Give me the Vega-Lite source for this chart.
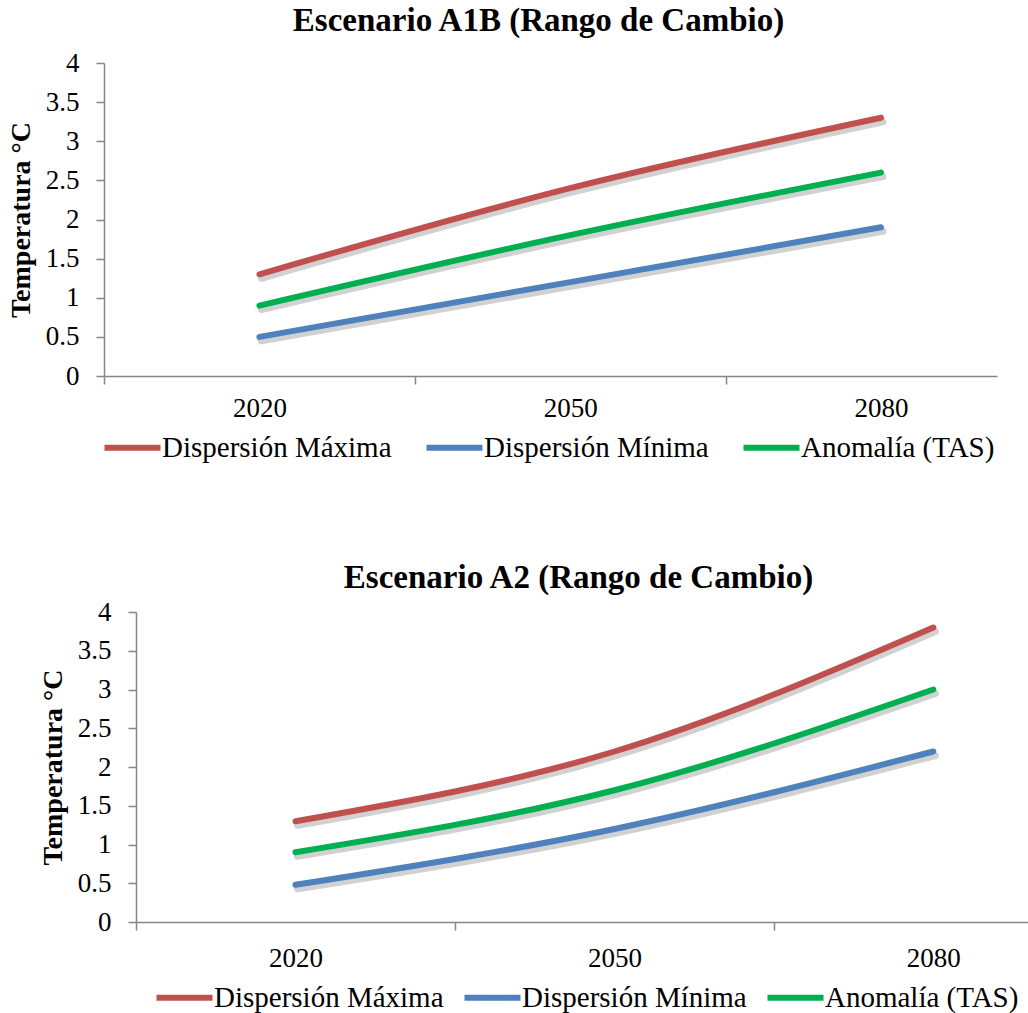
{
  "$schema": "https://vega.github.io/schema/vega-lite/v6.json",
  "padding": {"left": 7, "top": 5, "right": 0, "bottom": 0},
  "config": {
    "font": "Liberation Serif",
    "view": {"stroke": null},
    "axis": {
      "labelFont": "Liberation Serif", "labelFontSize": 27, "labelColor": "#000000",
      "domainColor": "#868686", "tickColor": "#868686", "domainWidth": 1.5, "tickWidth": 1.5,
      "grid": false,
      "titleFont": "Liberation Serif", "titleFontSize": 28, "titleFontWeight": "bold", "titleColor": "#000000"
    },
    "title": {"font": "Liberation Serif", "fontSize": 33, "fontWeight": "bold", "color": "#000000", "anchor": "middle"},
    "legend": {
      "orient": "none", "direction": "horizontal", "title": null,
      "labelFont": "Liberation Serif", "labelFontSize": 29, "labelColor": "#000000", "labelLimit": 400,
      "symbolType": "M-2.8,0H2.8", "symbolSize": 400, "symbolStrokeWidth": 6,
      "labelOffset": 15, "columnPadding": 22
    }
  },
  "datasets": {
    "a1b": [
      {"anio": 2020, "serie": "Dispersión Máxima", "temp": 1.3},
      {"anio": 2050, "serie": "Dispersión Máxima", "temp": 2.4},
      {"anio": 2080, "serie": "Dispersión Máxima", "temp": 3.3},
      {"anio": 2020, "serie": "Dispersión Mínima", "temp": 0.5},
      {"anio": 2050, "serie": "Dispersión Mínima", "temp": 1.2},
      {"anio": 2080, "serie": "Dispersión Mínima", "temp": 1.9},
      {"anio": 2020, "serie": "Anomalía (TAS)", "temp": 0.9},
      {"anio": 2050, "serie": "Anomalía (TAS)", "temp": 1.8},
      {"anio": 2080, "serie": "Anomalía (TAS)", "temp": 2.6}
    ],
    "a2": [
      {"anio": 2020, "serie": "Dispersión Máxima", "temp": 1.3},
      {"anio": 2050, "serie": "Dispersión Máxima", "temp": 2.2},
      {"anio": 2080, "serie": "Dispersión Máxima", "temp": 3.8},
      {"anio": 2020, "serie": "Dispersión Mínima", "temp": 0.48},
      {"anio": 2050, "serie": "Dispersión Mínima", "temp": 1.2},
      {"anio": 2080, "serie": "Dispersión Mínima", "temp": 2.2},
      {"anio": 2020, "serie": "Anomalía (TAS)", "temp": 0.9},
      {"anio": 2050, "serie": "Anomalía (TAS)", "temp": 1.7},
      {"anio": 2080, "serie": "Anomalía (TAS)", "temp": 3.0}
    ]
  },
  "bounds": "flush",
  "spacing": 236,
  "resolve": {"scale": {"color": "independent"}, "legend": {"color": "independent"}},
  "vconcat": [
    {
      "width": 893, "height": 313,
      "title": {"text": "Escenario A1B (Rango de Cambio)", "dx": -12, "offset": 11},
      "data": {"name": "a1b"},
      "encoding": {
        "x": {
          "field": "anio", "type": "quantitative",
          "scale": {"domain": [2005, 2091.2], "nice": false, "zero": false},
          "axis": {
            "values": [2005, 2020, 2035, 2050, 2065, 2080], "format": "d", "title": null,
            "labelExpr": "datum.value == 2005 || datum.value == 2035 || datum.value == 2065 ? '' : datum.label",
            "tickOpacity": {"condition": {"test": "datum.value == 2020 || datum.value == 2050 || datum.value == 2080", "value": 0}, "value": 1},
            "tickSize": 8, "labelPadding": 11, "labelFlush": false, "labelOverlap": false
          }
        },
        "y": {
          "field": "temp", "type": "quantitative",
          "scale": {"domain": [0, 4], "nice": false},
          "axis": {
            "values": [0, 0.5, 1, 1.5, 2, 2.5, 3, 3.5, 4], "format": "~g",
            "tickSize": 8, "labelPadding": 17, "title": "Temperatura °C", "titlePadding": 10
          }
        }
      },
      "layer": [
        {
          "mark": {"type": "line", "interpolate": "monotone", "strokeWidth": 7, "color": "#7a7a7a", "opacity": 0.35, "xOffset": 2, "yOffset": 4, "strokeCap": "round"},
          "encoding": {"detail": {"field": "serie"}}
        },
        {
          "mark": {"type": "line", "interpolate": "monotone", "strokeWidth": 6, "strokeCap": "round"},
          "encoding": {
            "color": {
              "field": "serie", "type": "nominal",
              "scale": {"domain": ["Dispersión Máxima", "Dispersión Mínima", "Anomalía (TAS)"], "range": ["#C0504D", "#4F81BD", "#00B050"]},
              "legend": {"legendX": 14, "legendY": 370}
            }
          }
        }
      ]
    },
    {
      "spacing": 20,
      "bounds": "flush",
      "resolve": {"scale": {"color": "independent"}, "legend": {"color": "independent"}},
      "hconcat": [
        {
          "width": 12, "height": 10,
          "data": {"values": [{}]},
          "mark": {"type": "point", "opacity": 0},
          "encoding": {}
        },
        {
          "width": 893, "height": 310,
          "title": {"text": "Escenario A2 (Rango de Cambio)", "dx": -4, "offset": 3},
          "data": {"name": "a2"},
          "encoding": {
            "x": {
              "field": "anio", "type": "quantitative",
              "scale": {"domain": [2005, 2089], "nice": false, "zero": false},
              "axis": {
                "values": [2005, 2020, 2035, 2050, 2065, 2080], "format": "d", "title": null,
                "labelExpr": "datum.value == 2005 || datum.value == 2035 || datum.value == 2065 ? '' : datum.label",
                "tickOpacity": {"condition": {"test": "datum.value == 2020 || datum.value == 2050 || datum.value == 2080", "value": 0}, "value": 1},
                "tickSize": 8, "labelPadding": 15, "labelFlush": false, "labelOverlap": false
              }
            },
            "y": {
              "field": "temp", "type": "quantitative",
              "scale": {"domain": [0, 4], "nice": false},
              "axis": {
                "values": [0, 0.5, 1, 1.5, 2, 2.5, 3, 3.5, 4], "format": "~g",
                "tickSize": 8, "labelPadding": 17, "title": "Temperatura °C", "titlePadding": 10
              }
            }
          },
          "layer": [
            {
              "mark": {"type": "line", "interpolate": "monotone", "strokeWidth": 7, "color": "#7a7a7a", "opacity": 0.35, "xOffset": 2, "yOffset": 4, "strokeCap": "round"},
              "encoding": {"detail": {"field": "serie"}}
            },
            {
              "mark": {"type": "line", "interpolate": "monotone", "strokeWidth": 6, "strokeCap": "round"},
              "encoding": {
                "color": {
                  "field": "serie", "type": "nominal",
                  "scale": {"domain": ["Dispersión Máxima", "Dispersión Mínima", "Anomalía (TAS)"], "range": ["#C0504D", "#4F81BD", "#00B050"]},
                  "legend": {"legendX": 34, "legendY": 371, "columnPadding": 8}
                }
              }
            }
          ]
        }
      ]
    }
  ]
}
